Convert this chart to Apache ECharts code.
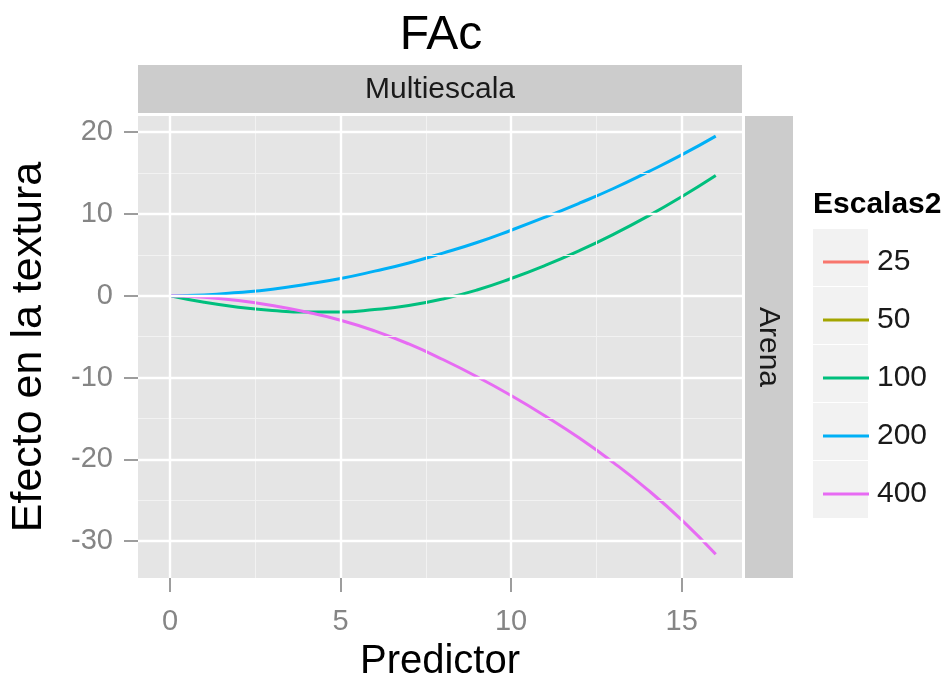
<!DOCTYPE html>
<html>
<head>
<meta charset="utf-8">
<script src="https://cdn.jsdelivr.net/npm/echarts@6/dist/echarts.min.js"></script>
<style>
  html, body { margin: 0; padding: 0; background: #fff; }
  #chart { width: 952px; height: 680px; }
</style>
</head>
<body>
<div id="chart"></div>
<script>
// FAc - efecto del predictor por escala
const predictor = [0, 1, 2, 3, 4, 5, 6, 7, 8, 9, 10, 11, 12, 13, 14, 15, 16];
const escalas = ['25', '50', '100', '200', '400'];
const colores = ['#F8766D', '#A3A500', '#00BF7D', '#00B0F6', '#E76BF3'];
const efecto25 = [];
const efecto50 = [];
const efecto100 = [0, -0.8, -1.4, -1.8, -2.0, -2.0, -1.7, -1.2, -0.4, 0.7, 2.1, 3.7, 5.5, 7.5, 9.7, 12.1, 14.7];
const efecto200 = [0, 0.1, 0.4, 0.8, 1.4, 2.1, 3.0, 4.0, 5.2, 6.5, 8.0, 9.6, 11.3, 13.1, 15.1, 17.2, 19.5];
const efecto400 = [0, -0.2, -0.6, -1.2, -2.0, -3.0, -4.3, -5.9, -7.8, -9.9, -12.2, -14.7, -17.4, -20.4, -23.7, -27.4, -31.6];
const xTicks = [0, 5, 10, 15];
const xMinor = [2.5, 7.5, 12.5];
const yTicks = [-30, -20, -10, 0, 10, 20];
const yMinor = [-25, -15, -5, 5, 15];

const efectos = [efecto25, efecto50, efecto100, efecto200, efecto400];

const grid = { left: 138, top: 116, width: 604, height: 462 };
const gris = '#858585';
const fuente = '"Liberation Sans", Arial, sans-serif';

function pares(valores) {
  return valores.map(function(v, i) { return [predictor[i], v]; });
}

function lineasGuia(lista, eje, color, ancho) {
  return lista.map(function(v) {
    const d = {};
    d[eje] = v;
    d.lineStyle = { color: color, width: ancho, type: 'solid' };
    return d;
  });
}

const chart = echarts.init(document.getElementById('chart'));

const series = escalas.map(function(nombre, i) {
  return {
    name: nombre,
    type: 'line',
    data: pares(efectos[i]),
    smooth: true,
    showSymbol: false,
    symbol: 'none',
    z: 3,
    lineStyle: { color: colores[i], width: 3 },
    itemStyle: { color: colores[i] }
  };
});

// lineas de la rejilla (menores y mayores)
series.unshift({
  name: 'rejilla',
  type: 'line',
  data: [[0, 0]],
  symbol: 'none',
  lineStyle: { opacity: 0 },
  silent: true,
  z: 1,
  markLine: {
    silent: true,
    symbol: 'none',
    label: { show: false },
    animation: false,
    data: lineasGuia(xMinor, 'xAxis', '#f2f2f2', 1)
      .concat(lineasGuia(yMinor, 'yAxis', '#f2f2f2', 1))
      .concat(lineasGuia(xTicks, 'xAxis', '#ffffff', 2.4))
      .concat(lineasGuia(yTicks, 'yAxis', '#ffffff', 2.4))
  }
});

// fondos de las claves de la leyenda
const clavesFondo = escalas.map(function(e, i) {
  return {
    type: 'rect',
    z: -1,
    shape: { x: 813, y: 229 + i * 58, width: 55, height: 57 },
    style: { fill: '#f2f2f2' },
    silent: true
  };
});

const option = {
  animation: false,
  backgroundColor: '#ffffff',
  textStyle: { fontFamily: fuente },
  grid: {
    left: grid.left,
    top: grid.top,
    width: grid.width,
    height: grid.height,
    show: true,
    backgroundColor: '#e5e5e5',
    borderWidth: 0
  },
  legend: {
    data: escalas,
    orient: 'vertical',
    left: 818,
    top: 242,
    icon: 'rect',
    itemWidth: 46,
    itemHeight: 3,
    itemGap: 28,
    selectedMode: false,
    textStyle: { fontSize: 30, lineHeight: 30, color: '#1a1a1a', fontFamily: fuente, padding: [0, 0, 0, 3] }
  },
  xAxis: {
    type: 'value',
    min: -0.94,
    max: 16.77,
    axisLine: { show: true, onZero: false, lineStyle: { opacity: 0 } },
    splitLine: { show: false },
    axisTick: {
      show: true,
      customValues: xTicks,
      length: 14,
      lineStyle: { color: gris, width: 1.6 }
    },
    axisLabel: {
      customValues: xTicks,
      margin: 29,
      fontSize: 29,
      color: gris,
      fontFamily: fuente
    }
  },
  yAxis: {
    type: 'value',
    min: -34.5,
    max: 21.96,
    axisLine: { show: true, onZero: false, lineStyle: { opacity: 0 } },
    splitLine: { show: false },
    axisTick: {
      show: true,
      customValues: yTicks,
      length: 14,
      lineStyle: { color: gris, width: 1.6 }
    },
    axisLabel: {
      customValues: yTicks,
      margin: 25,
      fontSize: 29,
      color: gris,
      fontFamily: fuente
    }
  },
  graphic: [
    {
      type: 'text',
      x: 441, y: 36,
      style: { text: 'FAc', fill: '#000', font: '48px ' + fuente, align: 'center', verticalAlign: 'middle' },
      silent: true
    },
    // tira superior
    {
      type: 'rect',
      shape: { x: 138, y: 65, width: 604, height: 48 },
      style: { fill: '#cccccc' },
      silent: true
    },
    {
      type: 'text',
      x: 440, y: 90,
      style: { text: 'Multiescala', fill: '#1a1a1a', font: '30px ' + fuente, align: 'center', verticalAlign: 'middle' },
      silent: true
    },
    // tira derecha
    {
      type: 'rect',
      shape: { x: 745, y: 116, width: 48, height: 462 },
      style: { fill: '#cccccc' },
      silent: true
    },
    {
      type: 'text',
      x: 768, y: 347,
      rotation: -Math.PI / 2,
      style: { text: 'Arena', fill: '#1a1a1a', font: '30px ' + fuente, align: 'center', verticalAlign: 'middle' },
      silent: true
    },
    // titulos de ejes
    {
      type: 'text',
      x: 29, y: 347,
      rotation: Math.PI / 2,
      style: { text: 'Efecto en la textura', fill: '#000', font: '43px ' + fuente, align: 'center', verticalAlign: 'middle' },
      silent: true
    },
    {
      type: 'text',
      x: 440, y: 662,
      style: { text: 'Predictor', fill: '#000', font: '40px ' + fuente, align: 'center', verticalAlign: 'middle' },
      silent: true
    },
    // leyenda: titulo
    {
      type: 'text',
      x: 813, y: 205,
      style: { text: 'Escalas2', fill: '#000', font: 'bold 30px ' + fuente, align: 'left', verticalAlign: 'middle' },
      silent: true
    }
  ].concat(clavesFondo),
  series: series
};

chart.setOption(option);
</script>
</body>
</html>
